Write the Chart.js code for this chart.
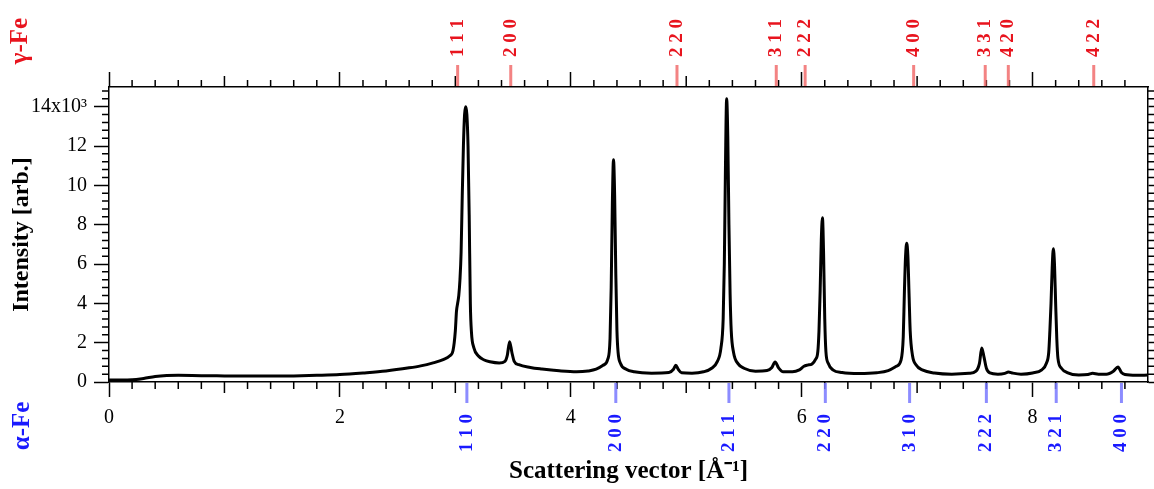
<!DOCTYPE html>
<html>
<head>
<meta charset="utf-8">
<script src="https://cdn.jsdelivr.net/npm/chart.js@4.4.1/dist/chart.umd.min.js"></script>
<style>
  html, body { margin: 0; padding: 0; background: #fff; }
  canvas { display: block; }
</style>
</head>
<body>
<canvas id="xrd" width="1154" height="489"></canvas>
<script>
// ----- DATA -----
// scattering vector q [1/Å] and intensity [x10^3 arb.]
const qValues = [
  0.00, 0.10, 0.20, 0.30, 0.40, 0.50, 0.60, 0.80, 1.00, 1.20, 1.40, 1.60, 1.80, 2.00,
  2.20, 2.40, 2.60, 2.70, 2.80, 2.90, 2.95, 2.98, 3.00, 3.01, 3.02, 3.03, 3.04, 3.05,
  3.06, 3.07, 3.08, 3.09, 3.10, 3.11, 3.12, 3.13, 3.14, 3.16, 3.20, 3.25, 3.30, 3.38,
  3.43, 3.45, 3.47, 3.49, 3.51, 3.55, 3.65, 3.75, 3.90, 4.05, 4.15, 4.22, 4.28, 4.32,
  4.34, 4.35, 4.36, 4.37, 4.38, 4.39, 4.40, 4.41, 4.43, 4.48, 4.55, 4.70, 4.85, 4.89,
  4.91, 4.93, 4.96, 5.05, 5.15, 5.22, 5.27, 5.30, 5.32, 5.33, 5.34, 5.35, 5.36, 5.37,
  5.38, 5.39, 5.41, 5.45, 5.50, 5.60, 5.70, 5.74, 5.77, 5.80, 5.84, 5.92, 5.98, 6.02,
  6.05, 6.09, 6.12, 6.14, 6.15, 6.16, 6.17, 6.18, 6.19, 6.20, 6.21, 6.23, 6.27, 6.35,
  6.50, 6.65, 6.75, 6.82, 6.86, 6.88, 6.89, 6.90, 6.91, 6.92, 6.93, 6.94, 6.96, 6.99,
  7.05, 7.15, 7.30, 7.45, 7.51, 7.54, 7.56, 7.58, 7.60, 7.63, 7.70, 7.76, 7.79, 7.83,
  7.90, 8.00, 8.08, 8.12, 8.14, 8.15, 8.16, 8.17, 8.18, 8.19, 8.20, 8.21, 8.22, 8.25,
  8.30, 8.40, 8.48, 8.52, 8.57, 8.64, 8.70, 8.74, 8.77, 8.80, 8.90, 9.00
];
const intensity = [
  0.10, 0.10, 0.11, 0.18, 0.28, 0.33, 0.34, 0.32, 0.31, 0.30, 0.30, 0.31, 0.34, 0.38,
  0.46, 0.56, 0.72, 0.82, 0.96, 1.15, 1.32, 1.60, 2.60, 3.60, 4.00, 4.40, 5.20, 6.60,
  9.50, 12.0, 13.6, 14.0, 13.6, 12.0, 8.50, 4.00, 2.50, 1.75, 1.32, 1.12, 1.03, 0.97,
  1.05, 1.35, 2.05, 1.50, 1.05, 0.88, 0.74, 0.66, 0.57, 0.52, 0.56, 0.65, 0.85, 1.15,
  2.20, 4.80, 9.00, 11.3, 9.50, 5.50, 2.60, 1.50, 0.95, 0.65, 0.52, 0.45, 0.48, 0.65,
  0.85, 0.65, 0.47, 0.45, 0.52, 0.70, 1.05, 1.70, 3.20, 6.00, 11.0, 14.4, 12.5, 8.00,
  4.50, 2.60, 1.50, 0.92, 0.70, 0.55, 0.58, 0.72, 1.02, 0.72, 0.52, 0.52, 0.62, 0.80,
  0.86, 0.92, 1.15, 1.55, 2.60, 4.60, 7.20, 8.35, 6.50, 3.20, 1.55, 0.95, 0.62, 0.48,
  0.43, 0.47, 0.58, 0.80, 1.10, 2.30, 4.60, 6.40, 7.05, 6.40, 4.50, 2.60, 1.35, 0.88,
  0.60, 0.46, 0.40, 0.44, 0.55, 0.95, 1.73, 1.25, 0.70, 0.46, 0.40, 0.44, 0.51, 0.45,
  0.40, 0.46, 0.62, 0.95, 1.50, 2.60, 4.00, 5.80, 6.77, 6.00, 4.00, 2.20, 1.20, 0.70,
  0.48, 0.36, 0.38, 0.44, 0.40, 0.40, 0.55, 0.76, 0.48, 0.38, 0.34, 0.35
];

// reflection positions
const gammaHkl = ["1 1 1", "2 0 0", "2 2 0", "3 1 1", "2 2 2", "4 0 0", "3 3 1", "4 2 0", "4 2 2"];
const gammaPos = [3.02, 3.48, 4.92, 5.78, 6.03, 6.97, 7.59, 7.79, 8.53];
const alphaHkl = ["1 1 0", "2 0 0", "2 1 1", "2 2 0", "3 1 0", "2 2 2", "3 2 1", "4 0 0"];
const alphaPos = [3.10, 4.39, 5.37, 6.205, 6.935, 7.60, 8.205, 8.77];

// axis tick labels
const xTickLabels = ["0", "2", "4", "6", "8"];
const yTickLabels = ["0", "2", "4", "6", "8", "10", "12", "14x10\u00B3"];

const SERIF = "'Liberation Serif', 'Times New Roman', serif";
Chart.defaults.font.family = SERIF;
Chart.defaults.color = "#000";

// ----- MINOR TICKS + hkl MARKERS -----
const extras = {
    id: "extras",
    afterDraw(chart) {
        const { ctx, chartArea: a, scales: { x, y } } = chart;
        ctx.save();
        ctx.strokeStyle = "#000";
        ctx.lineWidth = 1.5;
        ctx.beginPath();
        for (let i = 1; i < 45; i++) {
            if (i % 10 === 0) continue;
            const len = i % 5 === 0 ? 11 : 7;
            const px = x.getPixelForValue(i * 0.2);
            ctx.moveTo(px, a.bottom); ctx.lineTo(px, a.bottom + len);
            ctx.moveTo(px, a.top); ctx.lineTo(px, a.top - len);
        }
        for (let i = 1; i < 38; i++) {
            if (i % 5 === 0) continue;
            const py = y.getPixelForValue(i * 0.4);
            ctx.moveTo(a.left, py); ctx.lineTo(a.left - 7, py);
            ctx.moveTo(a.right, py); ctx.lineTo(a.right + 7, py);
        }
        ctx.stroke();

        // gamma-Fe (top)
        ctx.lineWidth = 3;
        ctx.font = "bold 19px " + SERIF;
        ctx.textAlign = "left";
        ctx.textBaseline = "middle";
        gammaPos.forEach((q, i) => {
            const px = x.getPixelForValue(q);
            ctx.strokeStyle = "rgba(240, 100, 100, 0.8)";
            ctx.beginPath(); ctx.moveTo(px, a.top - 22); ctx.lineTo(px, a.top - 1); ctx.stroke();
            ctx.save();
            ctx.translate(px, a.top - 30);
            ctx.rotate(-Math.PI / 2);
            ctx.fillStyle = "#e8141e";
            ctx.fillText(gammaHkl[i], 0, 0);
            ctx.restore();
        });

        // alpha-Fe (bottom)
        alphaPos.forEach((q, i) => {
            const px = x.getPixelForValue(q);
            ctx.strokeStyle = "rgba(120, 120, 255, 0.85)";
            ctx.beginPath(); ctx.moveTo(px, a.bottom + 1); ctx.lineTo(px, a.bottom + 21); ctx.stroke();
            ctx.save();
            ctx.translate(px, a.bottom + 70);
            ctx.rotate(-Math.PI / 2);
            ctx.fillStyle = "#1a1aff";
            ctx.fillText(alphaHkl[i], 0, 0);
            ctx.restore();
        });

        // phase names
        ctx.font = "bold 25px " + SERIF;
        ctx.textAlign = "center";
        ctx.textBaseline = "alphabetic";
        ctx.save();
        ctx.translate(27, 41); ctx.rotate(-Math.PI / 2);
        ctx.fillStyle = "#e8141e"; ctx.fillText("\u03B3-Fe", 0, 0);
        ctx.restore();
        ctx.save();
        ctx.translate(29, 426); ctx.rotate(-Math.PI / 2);
        ctx.fillStyle = "#1a1aff"; ctx.fillText("\u03B1-Fe", 0, 0);
        ctx.restore();
        ctx.restore();
    }
};

// ----- CHART -----
const axisBorder = { display: true, color: "#000", width: 1.5 };
const axisGrid = { drawOnChartArea: false, tickLength: 15, tickColor: "#000", tickWidth: 1.5 };

new Chart(document.getElementById("xrd"), {
    type: "line",
    data: {
        datasets: [{
            data: qValues.map((q, i) => ({ x: q, y: intensity[i] })),
            borderColor: "#000",
            borderWidth: 3,
            pointRadius: 0,
            cubicInterpolationMode: "monotone",
            fill: false
        }]
    },
    options: {
        responsive: false,
        animation: false,
        layout: { padding: 0 },
        plugins: { legend: { display: false }, tooltip: { enabled: false } },
        scales: {
            x: {
                type: "linear", position: "bottom", min: 0, max: 9,
                border: axisBorder, grid: axisGrid,
                ticks: {
                    stepSize: 2, includeBounds: false, maxRotation: 0, autoSkip: false, padding: 9,
                    font: { size: 20 },
                    callback: (v, i) => xTickLabels[i]
                },
                title: {
                    display: true, text: "Scattering vector [\u00C5\u207B\u00B9]",
                    font: { size: 25, weight: "bold" }, padding: { top: 0, bottom: 2 }
                },
                afterFit: s => { s.height = 107; }
            },
            x2: {
                type: "linear", position: "top", min: 0, max: 9,
                border: axisBorder, grid: axisGrid,
                ticks: { display: false, stepSize: 2, includeBounds: false },
                afterFit: s => { s.height = 87; }
            },
            y: {
                type: "linear", position: "left", min: 0, max: 15,
                border: axisBorder, grid: axisGrid,
                ticks: {
                    stepSize: 2, includeBounds: false, padding: 7,
                    font: { size: 20 },
                    callback: (v, i) => yTickLabels[i]
                },
                title: {
                    display: true, text: "Intensity [arb.]",
                    font: { size: 24, weight: "bold" }, padding: { top: 7, bottom: 0 }
                },
                afterFit: s => { s.width = 109; }
            },
            y2: {
                type: "linear", position: "right", min: 0, max: 15,
                border: axisBorder, grid: axisGrid,
                ticks: { display: false, stepSize: 2, includeBounds: false },
                afterFit: s => { s.width = 6; }
            }
        }
    },
    plugins: [extras]
});
</script>
</body>
</html>
